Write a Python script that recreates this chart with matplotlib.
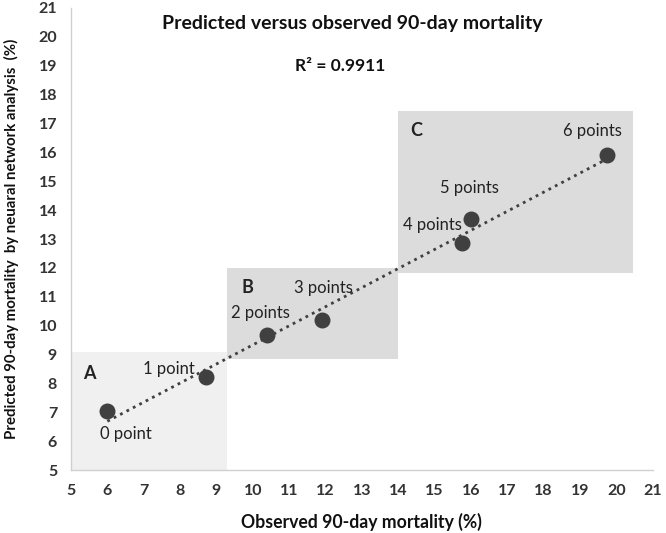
import matplotlib.pyplot as plt
import numpy as np

plt.rcParams['font.family'] = ['Lato', 'DejaVu Sans']

# observed vs predicted 90-day mortality (%)
observed = [6.0, 8.7, 10.4, 11.9, 15.75, 16.0, 19.75]
predicted = [7.05, 8.22, 9.67, 10.2, 12.85, 13.68, 15.9]
point_labels = ["0 point", "1 point", "2 points", "3 points", "4 points", "5 points", "6 points"]
label_pos = [(6.5, 6.25), (7.68, 8.5), (10.2, 10.45), (11.95, 11.3),
             (14.95, 13.5), (15.95, 14.78), (19.35, 16.75)]

# risk groups: (name, x0, x1, y0, y1, colour)
groups = [("A", 5.0, 9.3, 5.0, 9.08, "#f0f0f0"),
          ("B", 9.3, 14.0, 8.84, 12.0, "#dcdcdc"),
          ("C", 14.0, 20.47, 11.82, 17.42, "#dcdcdc")]
group_label_pos = [(5.5, 8.36), (9.85, 11.33), (14.5, 16.76)]

fig = plt.figure(figsize=(6.66, 5.33), dpi=100)
ax = fig.add_axes([0.1066, 0.118, 0.8734, 0.867])

for (name, x0, x1, y0, y1, c), (lx, ly) in zip(groups, group_label_pos):
    ax.fill_between([x0, x1], y0, y1, color=c, lw=0, zorder=0)
    ax.text(lx, ly, name, fontsize=13, fontweight='bold', color='#222222',
            ha='center', va='center')

# linear trend line
k, b = np.polyfit(observed, predicted, 1)
xs = np.array([min(observed), max(observed)])
ax.plot(xs, k * xs + b, ls=(0, (1, 1.6)), lw=2, color='#404040', zorder=2)

ax.scatter(observed, predicted, s=110, color='#404040', zorder=3)
for t, (lx, ly) in zip(point_labels, label_pos):
    ax.text(lx, ly, t, fontsize=12, color='#222222', ha='center', va='center')

ax.text(12.75, 20.45, "Predicted versus observed 90-day mortality", fontsize=14,
        fontweight='bold', ha='center', va='center', color='#111111')
ax.text(12.4, 19.0, "R² = 0.9911", fontsize=12.5, fontweight='bold',
        ha='center', va='center', color='#111111')

ax.set_xlim(5, 21)
ax.set_ylim(5, 21)
ax.set_xticks(range(5, 22))
ax.set_yticks(range(5, 22))
ax.tick_params(length=0, labelsize=11.5, colors='#333333', pad=10)
for lab in ax.get_xticklabels() + ax.get_yticklabels():
    lab.set_fontweight('bold')
for s in ['top', 'right']:
    ax.spines[s].set_visible(False)
for s in ['left', 'bottom']:
    ax.spines[s].set_color('#d0d0d0')
    ax.spines[s].set_linewidth(1)

ax.set_xlabel("Observed 90-day mortality (%)", fontsize=12.7, fontweight='bold',
              color='#111111', labelpad=11)
ax.set_ylabel("Predicted 90-day mortality  by neuaral network analysis  (%)",
              fontsize=10.8, fontweight='bold', color='#111111', labelpad=14)

fig.savefig("out.png", dpi=100)
